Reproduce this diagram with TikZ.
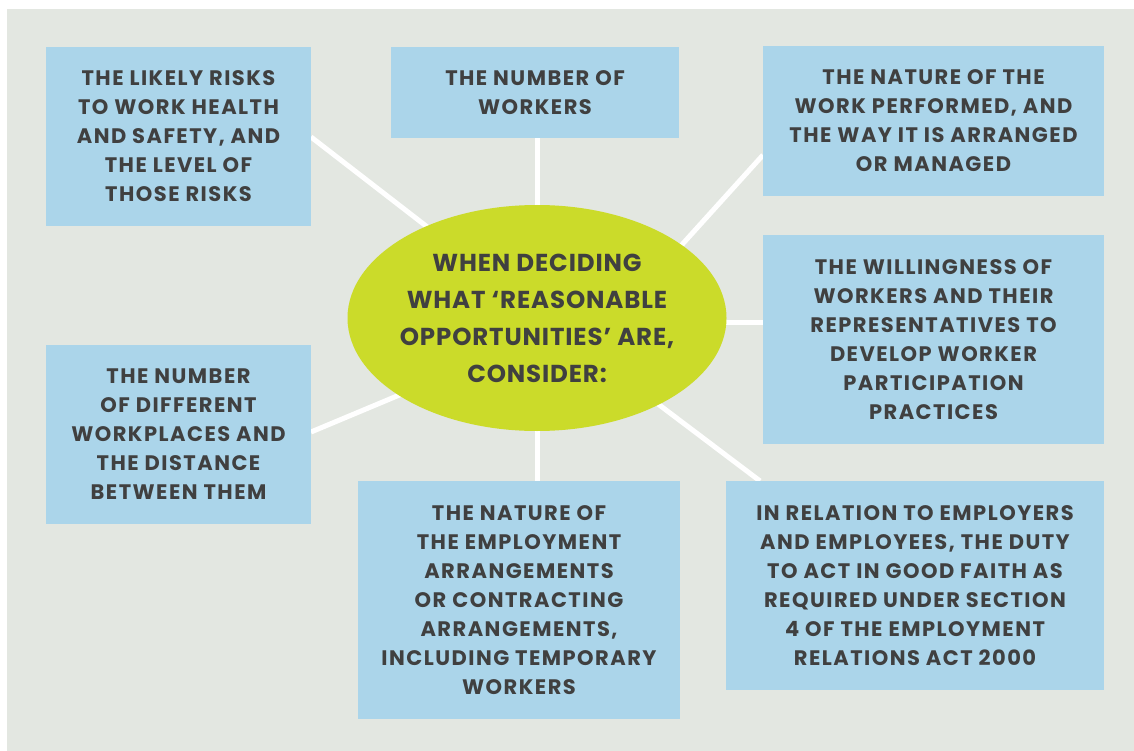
\documentclass[tikz,border=0pt]{standalone}
\usepackage{fontspec}
\setmainfont{Poppins}
\newfontfamily\boxfam[LetterSpace=7]{Poppins}
\newfontfamily\ellfam[LetterSpace=3.5]{Poppins}
\usetikzlibrary{backgrounds,shapes.geometric}
\definecolor{bgc}{HTML}{E3E7E1}
\definecolor{boxc}{HTML}{ABD5EA}
\definecolor{ellc}{HTML}{CBDB2A}
\definecolor{txtc}{HTML}{404040}
\newcommand\myboxfont{\boxfam\fontsize{21}{29}\selectfont\bfseries}
\newcommand\myellfont{\ellfam\fontsize{24.5}{37}\selectfont\bfseries}
\tikzset{
  box/.style={fill=boxc, draw=none, inner sep=0pt, align=center, text=txtc, font=\myboxfont},
  conn/.style={draw=white, line width=5pt},
}
\begin{document}
\begin{tikzpicture}[x=1pt,y=-1pt]
\useasboundingbox (0,0) rectangle (1134,751);
\begin{scope}[on background layer]
  \fill[white] (0,0) rectangle (1134,751);
  \fill[bgc] (7,9) rectangle (1134,751);
\end{scope}

\node[ellipse, fill=ellc, inner sep=0pt, minimum width=379pt, minimum height=226pt] (ell) at (537,318) {};
\node[align=center, text=txtc, font=\myellfont, inner sep=0pt] (elltext) at (ell.center)
  {WHEN DECIDING\\WHAT ‘REASONABLE\\OPPORTUNITIES’ ARE,\\CONSIDER:};

\node[box, minimum width=265pt, minimum height=179pt] (b1) at (178.5,136.5)
  {THE LIKELY RISKS\\TO WORK HEALTH\\AND SAFETY, AND\\THE LEVEL OF\\THOSE RISKS};
\node[box, minimum width=288pt, minimum height=91pt] (b2) at (535,92.5)
  {THE NUMBER OF\\WORKERS};
\node[box, minimum width=341pt, minimum height=150pt] (b3) at (933.5,121)
  {THE NATURE OF THE\\WORK PERFORMED, AND\\THE WAY IT IS ARRANGED\\OR MANAGED};
\node[box, minimum width=341pt, minimum height=209pt] (b4) at (933.5,339.5)
  {THE WILLINGNESS OF\\WORKERS AND THEIR\\REPRESENTATIVES TO\\DEVELOP WORKER\\PARTICIPATION\\PRACTICES};
\node[box, minimum width=378pt, minimum height=209pt] (b5) at (915,585.5)
  {IN RELATION TO EMPLOYERS\\AND EMPLOYEES, THE DUTY\\TO ACT IN GOOD FAITH AS\\REQUIRED UNDER SECTION\\4 OF THE EMPLOYMENT\\RELATIONS ACT 2000};
\node[box, minimum width=322pt, minimum height=238pt] (b6) at (519,600)
  {THE NATURE OF\\THE EMPLOYMENT\\ARRANGEMENTS\\OR CONTRACTING\\ARRANGEMENTS,\\INCLUDING TEMPORARY\\WORKERS};
\node[box, minimum width=265pt, minimum height=179pt] (b7) at (178.5,434.5)
  {THE NUMBER\\OF DIFFERENT\\WORKPLACES AND\\THE DISTANCE\\BETWEEN THEM};

\coordinate (k1) at (311,137);   \coordinate (e1) at (470,260);
\coordinate (k2) at (537.5,138); \coordinate (e2) at (537.5,240);
\coordinate (k3) at (763,155);   \coordinate (e3) at (650,280);
\coordinate (k4) at (763,322);   \coordinate (e4) at (690,322);
\coordinate (k5) at (760,481);   \coordinate (e5) at (617,373);
\coordinate (k6) at (537.5,481); \coordinate (e6) at (537.5,400);
\coordinate (k7) at (311,432);   \coordinate (e7) at (440,378);

\begin{scope}[on background layer]
  \foreach \i in {1,...,7} {\draw[conn] (k\i) -- (e\i);}
\end{scope}
\end{tikzpicture}
\end{document}
